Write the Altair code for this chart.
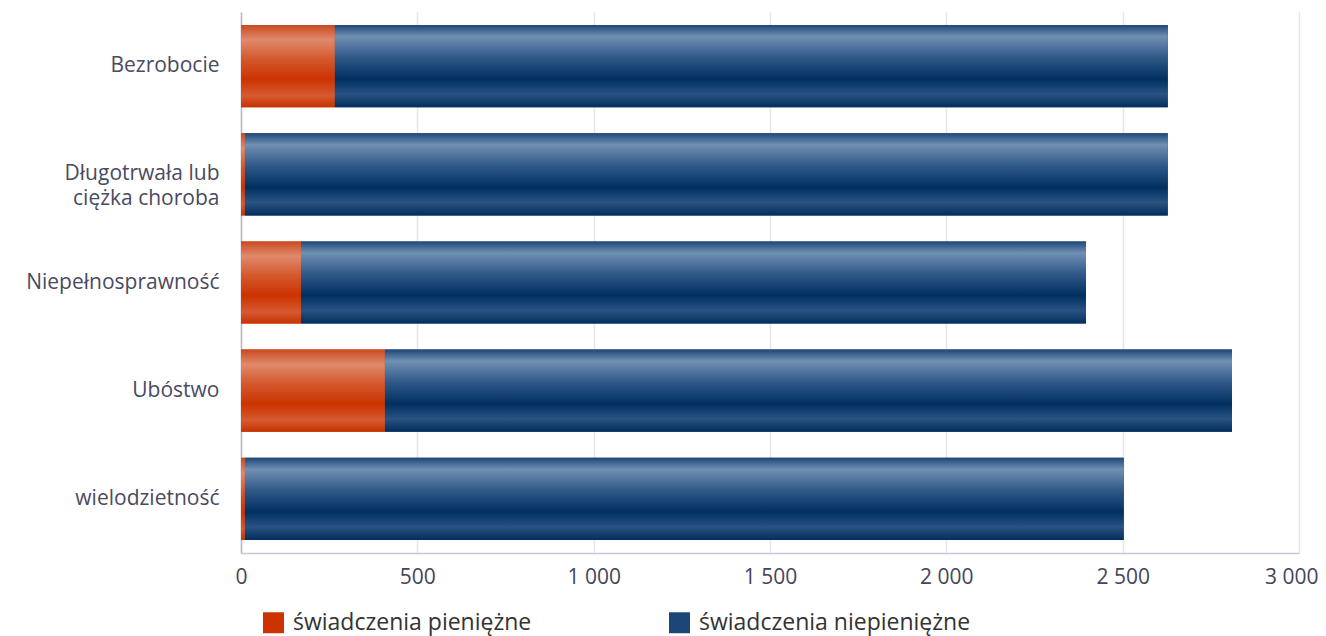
import altair as alt
import pandas as pd

categories = ["Bezrobocie", "Długotrwała lub|ciężka choroba", "Niepełnosprawność", "Ubóstwo", "wielodzietność"]
series = ["świadczenia pieniężne", "świadczenia niepieniężne"]
cash = [266, 11, 170, 408, 11]
non_cash = [2362, 2617, 2226, 2402, 2492]
x_ticks = [0, 500, 1000, 1500, 2000, 2500, 3000]

flat_colors = ["#cc3300", "#1b4677"]

grad_orange = {
    "gradient": "linear", "x1": 0, "y1": 0, "x2": 0, "y2": 1,
    "stops": [
        {"offset": 0.0, "color": "#c94a20"},
        {"offset": 0.18, "color": "#e08a6b"},
        {"offset": 0.42, "color": "#d3572c"},
        {"offset": 0.66, "color": "#cc3300"},
        {"offset": 0.86, "color": "#d65a30"},
        {"offset": 1.0, "color": "#c63200"},
    ],
}
grad_blue = {
    "gradient": "linear", "x1": 0, "y1": 0, "x2": 0, "y2": 1,
    "stops": [
        {"offset": 0.0, "color": "#1e4677"},
        {"offset": 0.14, "color": "#7090b3"},
        {"offset": 0.4, "color": "#2f5888"},
        {"offset": 0.66, "color": "#00305f"},
        {"offset": 0.84, "color": "#2a5282"},
        {"offset": 1.0, "color": "#022e5c"},
    ],
}

rows = []
for c, a, b in zip(categories, cash, non_cash):
    rows.append({"category": c, "series": series[0], "value": a, "ord": 0})
    rows.append({"category": c, "series": series[1], "value": b, "ord": 1})
df = pd.DataFrame(rows)

FONT = "Open Sans"
last_tick = x_ticks[-1]

y_enc = alt.Y(
    "category:N",
    sort=categories,
    scale=alt.Scale(paddingInner=0.24, paddingOuter=0.12),
    axis=alt.Axis(
        title=None,
        labelExpr="split(datum.label, '|')",
        labelAlign="right",
        labelPadding=22,
        labelFont=FONT,
        labelFontSize=21,
        labelColor="#4a4a60",
        labelLineHeight=25,
        labelLimit=300,
        ticks=False,
        domainColor="#b8b8cc",
        domainWidth=1.5,
        grid=False,
    ),
)
x_enc = alt.X(
    "value:Q",
    stack="zero",
    scale=alt.Scale(domain=[0, 3000], nice=False),
    axis=alt.Axis(
        title=None,
        values=x_ticks,
        labelExpr="replace(format(datum.value, ','), ',', ' ')",
        labelFont=FONT,
        labelFontSize=21,
        labelColor="#44445a",
        labelPadding=13,
        labelFlush=False,
        labelAlign={"condition": {"test": f"datum.value == {last_tick}", "value": "right"}, "value": "center"},
        labelOffset={"condition": {"test": f"datum.value == {last_tick}", "value": 19}, "value": 0},
        ticks=False,
        domainColor="#c8c8d8",
        domainWidth=1.5,
        grid=True,
        gridColor="#e6e6ea",
        gridWidth=1.5,
    ),
)

flat = alt.Chart(df).mark_bar().encode(
    x=x_enc,
    y=y_enc,
    color=alt.Color(
        "series:N",
        scale=alt.Scale(domain=series, range=flat_colors),
        legend=alt.Legend(
            title=None,
            orient="none",
            legendX=21,
            legendY=599,
            direction="horizontal",
            symbolType="square",
            symbolSize=440,
            symbolStrokeWidth=0,
            labelFont=FONT,
            labelFontSize=23,
            labelColor="#333333",
            labelOffset=8,
            columnPadding=136,
            labelLimit=400,
        ),
    ),
    order=alt.Order("ord:Q"),
)

grad = alt.Chart(df).mark_bar().encode(
    x=x_enc,
    y=y_enc,
    color=alt.condition(
        alt.datum.series == series[0], alt.value(grad_orange), alt.value(grad_blue)
    ),
    detail="series:N",
    order=alt.Order("ord:Q"),
)

chart = (
    alt.layer(flat, grad)
    .properties(
        width=1058,
        height=541,
        autosize=alt.AutoSizeParams(type="none"),
        padding={"left": 233, "top": 4, "right": 19, "bottom": 83},
    )
    .configure_view(stroke=None)
)

chart.save("out.html", embed_options={"renderer": "svg", "actions": False})
